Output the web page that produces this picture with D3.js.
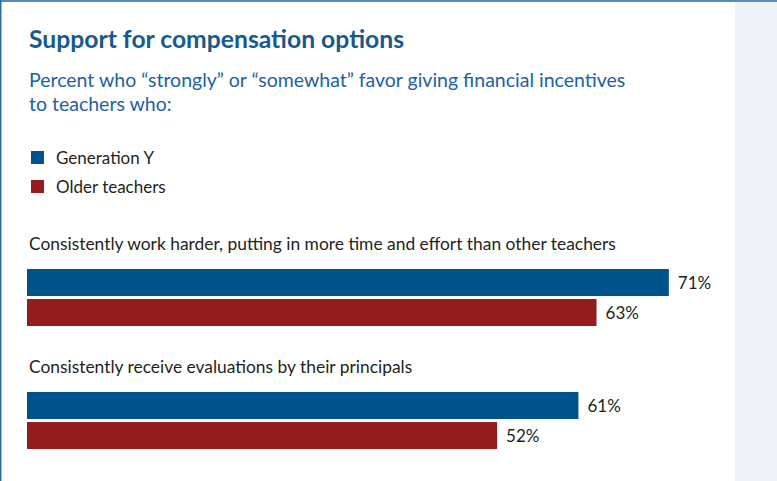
<!DOCTYPE html>
<html><head><meta charset="utf-8">
<script src="https://cdn.jsdelivr.net/npm/d3@7"></script>
<style>
html,body{margin:0;padding:0;background:#fff;}
svg{display:block;}
text{font-family:Lato, "Open Sans", sans-serif;}
</style></head>
<body>
<script>
const title = "Support for compensation options";
const subtitleLines = ["Percent who \u201cstrongly\u201d or \u201csomewhat\u201d favor giving financial incentives", "to teachers who:"];
const seriesNames = ["Generation Y", "Older teachers"];
const seriesColors = ["#00528a", "#931c1f"];
const categories = ["Consistently work harder, putting in more time and effort than other teachers", "Consistently receive evaluations by their principals"];
const genY = [71, 61];
const older = [63, 52];

const W = 777, H = 481;
const svg = d3.select("body").append("svg").attr("width", W).attr("height", H);

// panel background
svg.append("rect").attr("x", 0).attr("y", 0).attr("width", W).attr("height", H).attr("fill", "#fff");
svg.append("rect").attr("x", 735).attr("y", 0).attr("width", W - 735).attr("height", H).attr("fill", "#eff3f8");
svg.append("rect").attr("x", 0).attr("y", 0).attr("width", W).attr("height", 2).attr("fill", "#5b8bb6");
svg.append("rect").attr("x", 0).attr("y", 0).attr("width", 1.5).attr("height", H).attr("fill", "#2a6ea8");

svg.append("text").attr("x", 29).attr("y", 48).attr("fill", "#165a8e")
  .attr("font-size", 24.7).attr("font-weight", 700).text(title);

svg.selectAll("text.sub").data(subtitleLines).join("text").attr("class", "sub")
  .attr("x", 29).attr("y", (d, i) => 87 + i * 24).attr("fill", "#1d62a0")
  .attr("font-size", 19.5).text(d => d);

// legend
const leg = svg.selectAll("g.leg").data(seriesNames).join("g").attr("class", "leg")
  .attr("transform", (d, i) => `translate(31,${151 + i * 29})`);
leg.append("rect").attr("width", 13).attr("height", 13).attr("fill", (d, i) => seriesColors[i]);
leg.append("text").attr("x", 25).attr("y", 13).attr("fill", "#231f20").attr("font-size", 17).text(d => d);

const x = d3.scaleLinear().domain([0, 100]).range([27, 931]);
const yGroup = d3.scaleOrdinal().domain(categories).range([269, 392]);
const ySub = d3.scaleBand().domain(seriesNames).range([0, 57]).paddingInner(0.1);

const rows = [];
categories.forEach((c, i) => {
  rows.push({cat: c, s: seriesNames[0], v: genY[i], color: seriesColors[0]});
  rows.push({cat: c, s: seriesNames[1], v: older[i], color: seriesColors[1]});
});

svg.selectAll("text.cat").data(categories).join("text").attr("class", "cat")
  .attr("x", 29).attr("y", d => yGroup(d) - 19).attr("fill", "#231f20")
  .attr("font-size", 17.4).text(d => d);

svg.selectAll("rect.bar").data(rows).join("rect").attr("class", "bar")
  .attr("x", x(0)).attr("y", d => yGroup(d.cat) + ySub(d.s))
  .attr("width", d => x(d.v) - x(0)).attr("height", ySub.bandwidth())
  .attr("fill", d => d.color);

svg.selectAll("text.val").data(rows).join("text").attr("class", "val")
  .attr("x", d => x(d.v) + 9).attr("y", d => yGroup(d.cat) + ySub(d.s) + ySub.bandwidth() / 2 + 6)
  .attr("fill", "#231f20").attr("font-size", 17).text(d => d.v + "%");
</script>
</body></html>
